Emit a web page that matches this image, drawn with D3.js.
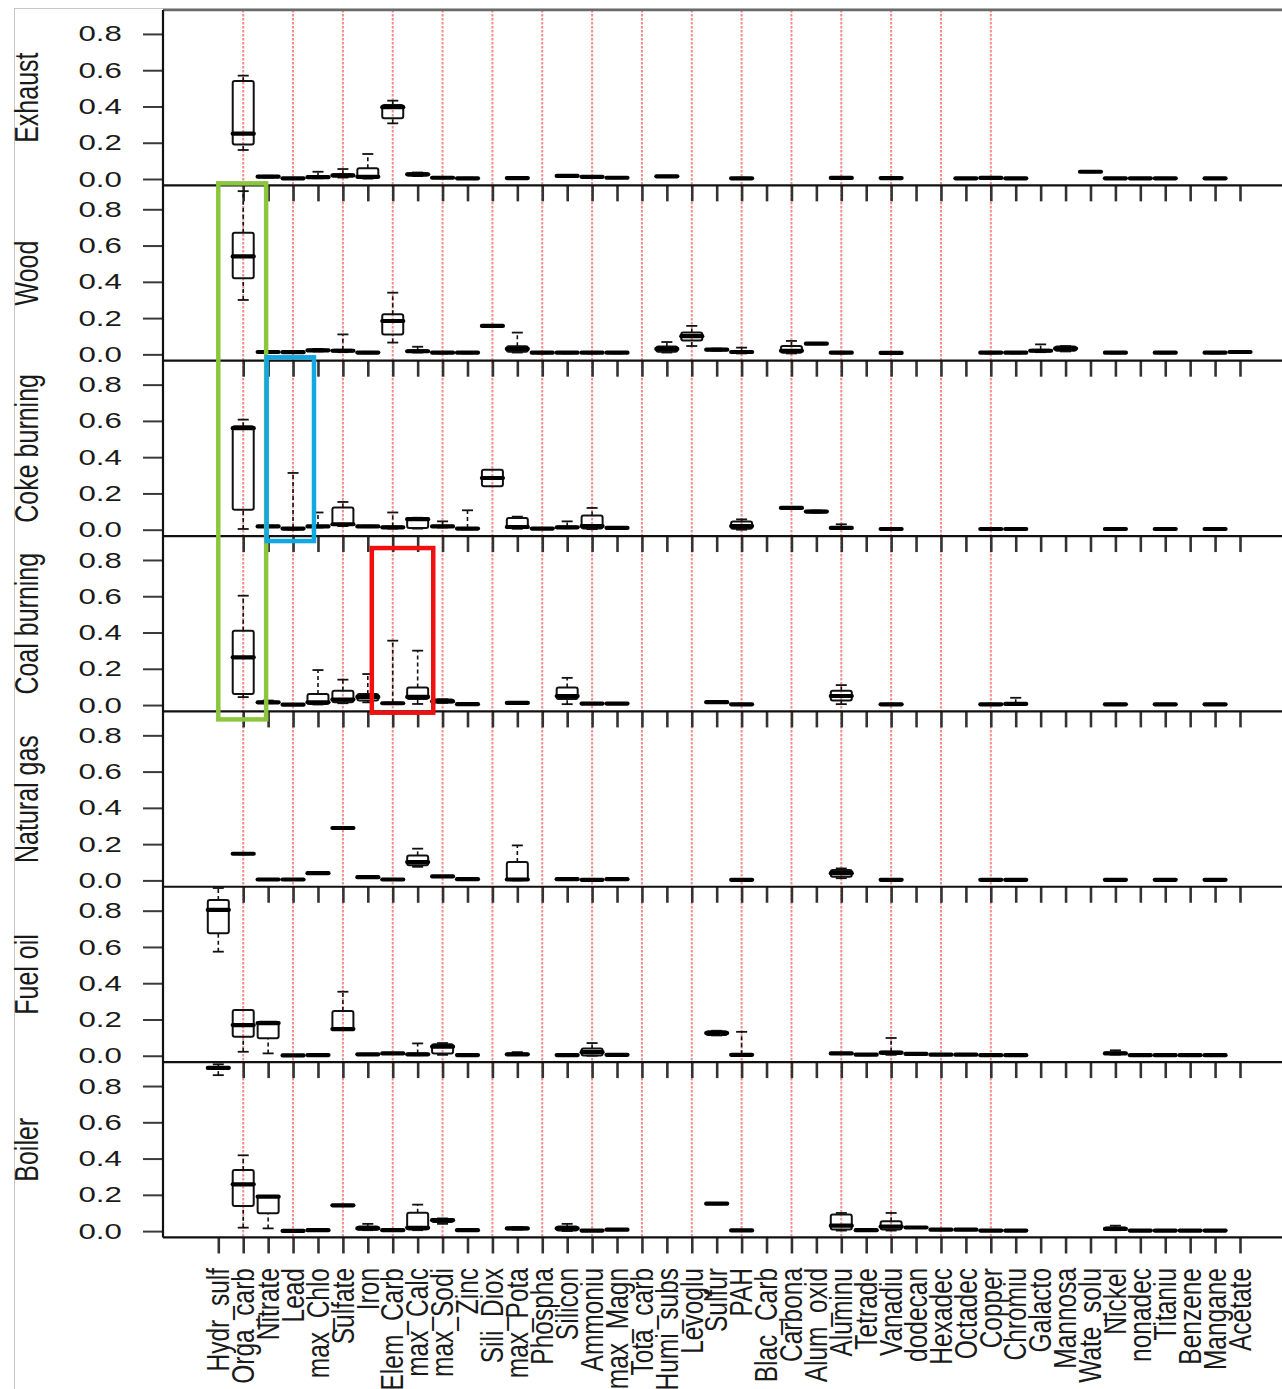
<!DOCTYPE html>
<html>
<head>
<meta charset="utf-8">
<script src="https://cdn.jsdelivr.net/npm/d3@7"></script>
<style>
  body { margin: 0; background: #fff; }
  svg { display: block; }
  text { font-family: "Liberation Sans", Arial, sans-serif; fill: #1a1a1a; }
</style>
</head>
<body>
<svg id="chart" width="1282" height="1389"></svg>
<script>

var categories = ["Hydr_sulf", "Orga_carb", "Nitrate", "Lead", "max_Chlo", "Sulfate", "Iron", "Elem_Carb",
  "max_Calc", "max_Sodi", "Zinc", "Sili_Diox", "max_Pota", "Phospha", "Silicon", "Ammoniu", "max_Magn",
  "Tota_carb", "Humi_subs", "Levoglu", "Sulfur", "PAH", "Blac_Carb", "Carbona", "Alum_oxid", "Aluminu",
  "Tetrade", "Vanadiu", "dodecan", "Hexadec", "Octadec", "Copper", "Chromiu", "Galacto", "Mannosa",
  "Wate_solu", "Nickel", "nonadec", "Titaniu", "Benzene", "Mangane", "Acetate"];

var panels = ["Exhaust", "Wood", "Coke burning", "Coal burning", "Natural gas", "Fuel oil", "Boiler"];

var yTicks = [0, 0.2, 0.4, 0.6, 0.8];

// categories that carry a red dotted guide line
var redLineCats = ["Orga_carb", "Lead", "Sulfate", "Elem_Carb", "max_Sodi", "Sili_Diox", "Phospha", "Ammoniu",
  "Tota_carb", "Levoglu", "PAH", "Carbona", "Aluminu", "Vanadiu", "Hexadec", "Copper"];

// rows: [category, lower whisker, Q1, median, Q3, upper whisker]
var exhaust = [
  ["Orga_carb", 0.16, 0.19, 0.25, 0.54, 0.57],
  ["Nitrate", 0.008, 0.01, 0.013, 0.016, 0.018],
  ["Lead", 0.001, 0.002, 0.004, 0.005, 0.006],
  ["max_Chlo", 0.004, 0.007, 0.01, 0.014, 0.04],
  ["Sulfate", 0.008, 0.014, 0.02, 0.026, 0.055],
  ["Iron", 0.002, 0.005, 0.012, 0.059, 0.138],
  ["Elem_Carb", 0.307, 0.335, 0.396, 0.408, 0.432],
  ["max_Calc", 0.016, 0.02, 0.026, 0.032, 0.036],
  ["max_Sodi", 0.004, 0.005, 0.007, 0.009, 0.01],
  ["Zinc", 0.002, 0.003, 0.004, 0.006, 0.007],
  ["max_Pota", 0.002, 0.004, 0.005, 0.007, 0.008],
  ["Silicon", 0.013, 0.015, 0.017, 0.019, 0.02],
  ["Ammoniu", 0.008, 0.01, 0.012, 0.014, 0.015],
  ["max_Magn", 0.004, 0.005, 0.007, 0.009, 0.01],
  ["Humi_subs", 0.012, 0.013, 0.015, 0.017, 0.018],
  ["PAH", 0.001, 0.002, 0.004, 0.006, 0.007],
  ["Aluminu", 0.003, 0.004, 0.006, 0.008, 0.009],
  ["Vanadiu", 0.002, 0.003, 0.005, 0.006, 0.007],
  ["Octadec", 0.001, 0.002, 0.004, 0.005, 0.006],
  ["Copper", 0.003, 0.004, 0.006, 0.008, 0.009],
  ["Chromiu", 0.001, 0.002, 0.004, 0.005, 0.006],
  ["Wate_solu", 0.037, 0.038, 0.04, 0.042, 0.043],
  ["Nickel", 0.001, 0.002, 0.004, 0.005, 0.006],
  ["nonadec", 0.001, 0.002, 0.004, 0.005, 0.006],
  ["Titaniu", 0.001, 0.002, 0.004, 0.005, 0.006],
  ["Mangane", 0.001, 0.002, 0.004, 0.005, 0.006]
];

var wood = [
  ["Orga_carb", 0.30, 0.42, 0.54, 0.67, 0.90],
  ["Nitrate", 0.009, 0.011, 0.013, 0.015, 0.017],
  ["Lead", 0.008, 0.01, 0.012, 0.014, 0.016],
  ["max_Chlo", 0.016, 0.019, 0.022, 0.026, 0.03],
  ["Sulfate", 0.012, 0.016, 0.02, 0.025, 0.11],
  ["Iron", 0.006, 0.008, 0.01, 0.012, 0.014],
  ["Elem_Carb", 0.065, 0.11, 0.184, 0.221, 0.34],
  ["max_Calc", 0.01, 0.013, 0.017, 0.022, 0.042],
  ["max_Sodi", 0.005, 0.007, 0.009, 0.011, 0.013],
  ["Zinc", 0.005, 0.007, 0.009, 0.011, 0.013],
  ["Sili_Diox", 0.154, 0.155, 0.157, 0.159, 0.16],
  ["max_Pota", 0.01, 0.014, 0.03, 0.045, 0.12],
  ["Phospha", 0.005, 0.007, 0.009, 0.011, 0.013],
  ["Silicon", 0.005, 0.007, 0.009, 0.011, 0.013],
  ["Ammoniu", 0.005, 0.007, 0.009, 0.011, 0.013],
  ["max_Magn", 0.005, 0.007, 0.009, 0.011, 0.013],
  ["Humi_subs", 0.01, 0.015, 0.03, 0.043, 0.068],
  ["Levoglu", 0.046, 0.077, 0.1, 0.12, 0.157],
  ["Sulfur", 0.02, 0.022, 0.026, 0.03, 0.032],
  ["PAH", 0.005, 0.009, 0.013, 0.018, 0.037],
  ["Carbona", 0.005, 0.009, 0.02, 0.046, 0.074],
  ["Alum_oxid", 0.056, 0.057, 0.059, 0.061, 0.062],
  ["Aluminu", 0.005, 0.007, 0.009, 0.011, 0.013],
  ["Vanadiu", 0.004, 0.006, 0.008, 0.01, 0.012],
  ["Copper", 0.005, 0.007, 0.009, 0.011, 0.013],
  ["Chromiu", 0.005, 0.007, 0.009, 0.011, 0.013],
  ["Galacto", 0.012, 0.016, 0.02, 0.026, 0.055],
  ["Mannosa", 0.016, 0.02, 0.032, 0.043, 0.046],
  ["Nickel", 0.005, 0.007, 0.009, 0.011, 0.013],
  ["Titaniu", 0.005, 0.007, 0.009, 0.011, 0.013],
  ["Mangane", 0.005, 0.007, 0.009, 0.011, 0.013],
  ["Acetate", 0.009, 0.011, 0.013, 0.015, 0.017]
];

var coke = [
  ["Orga_carb", 0.004, 0.11, 0.56, 0.57, 0.607],
  ["Nitrate", 0.014, 0.016, 0.018, 0.02, 0.022],
  ["Lead", 0.001, 0.003, 0.006, 0.009, 0.313],
  ["max_Chlo", 0.012, 0.015, 0.018, 0.021, 0.095],
  ["Sulfate", 0.02, 0.028, 0.03, 0.123, 0.153],
  ["Iron", 0.014, 0.016, 0.018, 0.02, 0.022],
  ["Elem_Carb", 0.006, 0.01, 0.013, 0.017, 0.095],
  ["max_Calc", 0.006, 0.009, 0.058, 0.064, 0.066],
  ["max_Sodi", 0.012, 0.015, 0.018, 0.022, 0.046],
  ["Zinc", 0.002, 0.004, 0.006, 0.009, 0.107],
  ["Sili_Diox", 0.239, 0.239, 0.285, 0.331, 0.331],
  ["max_Pota", 0.005, 0.01, 0.015, 0.065, 0.072],
  ["Phospha", 0.003, 0.005, 0.006, 0.008, 0.01],
  ["Silicon", 0.008, 0.01, 0.013, 0.017, 0.046],
  ["Ammoniu", 0.003, 0.006, 0.02, 0.079, 0.12],
  ["max_Magn", 0.006, 0.008, 0.01, 0.012, 0.014],
  ["PAH", 0.0, 0.005, 0.02, 0.045, 0.057],
  ["Carbona", 0.117, 0.118, 0.12, 0.122, 0.123],
  ["Alum_oxid", 0.094, 0.096, 0.1, 0.104, 0.106],
  ["Aluminu", 0.005, 0.007, 0.01, 0.015, 0.03],
  ["Vanadiu", 0.002, 0.003, 0.004, 0.006, 0.007],
  ["Copper", 0.002, 0.003, 0.004, 0.006, 0.007],
  ["Chromiu", 0.002, 0.003, 0.004, 0.006, 0.007],
  ["Nickel", 0.002, 0.003, 0.004, 0.006, 0.007],
  ["Titaniu", 0.002, 0.003, 0.004, 0.006, 0.007],
  ["Mangane", 0.002, 0.003, 0.004, 0.006, 0.007]
];

var coal = [
  ["Orga_carb", 0.044, 0.061, 0.263, 0.41, 0.603],
  ["Nitrate", 0.01, 0.012, 0.015, 0.018, 0.025],
  ["Lead", 0.0, 0.001, 0.002, 0.003, 0.004],
  ["max_Chlo", 0.003, 0.006, 0.015, 0.061, 0.193],
  ["Sulfate", 0.01, 0.015, 0.03, 0.079, 0.14],
  ["Iron", 0.015, 0.025, 0.045, 0.061, 0.171],
  ["Elem_Carb", 0.005, 0.007, 0.01, 0.013, 0.355],
  ["max_Calc", 0.006, 0.033, 0.045, 0.097, 0.3],
  ["max_Sodi", 0.012, 0.015, 0.02, 0.03, 0.032],
  ["Zinc", 0.002, 0.003, 0.005, 0.007, 0.008],
  ["max_Pota", 0.009, 0.01, 0.012, 0.014, 0.016],
  ["Silicon", 0.005, 0.033, 0.05, 0.097, 0.15],
  ["Ammoniu", 0.005, 0.006, 0.008, 0.01, 0.012],
  ["max_Magn", 0.005, 0.006, 0.008, 0.01, 0.012],
  ["Sulfur", 0.013, 0.014, 0.016, 0.018, 0.019],
  ["PAH", 0.001, 0.002, 0.004, 0.006, 0.007],
  ["Aluminu", 0.005, 0.025, 0.05, 0.079, 0.11],
  ["Vanadiu", 0.001, 0.002, 0.004, 0.006, 0.007],
  ["Copper", 0.001, 0.002, 0.004, 0.006, 0.007],
  ["Chromiu", 0.002, 0.004, 0.006, 0.01, 0.04],
  ["Nickel", 0.001, 0.002, 0.004, 0.006, 0.007],
  ["Titaniu", 0.001, 0.002, 0.004, 0.006, 0.007],
  ["Mangane", 0.001, 0.002, 0.004, 0.006, 0.007]
];

var naturalGas = [
  ["Orga_carb", 0.144, 0.145, 0.147, 0.149, 0.15],
  ["Nitrate", 0.002, 0.003, 0.005, 0.007, 0.008],
  ["Lead", 0.002, 0.003, 0.005, 0.007, 0.008],
  ["max_Chlo", 0.037, 0.038, 0.04, 0.042, 0.043],
  ["Sulfate", 0.286, 0.287, 0.289, 0.291, 0.292],
  ["Iron", 0.014, 0.016, 0.018, 0.02, 0.022],
  ["Elem_Carb", 0.002, 0.003, 0.005, 0.007, 0.008],
  ["max_Calc", 0.075, 0.083, 0.101, 0.138, 0.175],
  ["max_Sodi", 0.019, 0.02, 0.022, 0.024, 0.025],
  ["Zinc", 0.004, 0.005, 0.007, 0.009, 0.01],
  ["max_Pota", 0.0, 0.002, 0.005, 0.101, 0.193],
  ["Silicon", 0.004, 0.005, 0.007, 0.009, 0.01],
  ["Ammoniu", 0.0, 0.001, 0.003, 0.005, 0.006],
  ["max_Magn", 0.004, 0.005, 0.007, 0.009, 0.01],
  ["PAH", 0.0, 0.001, 0.003, 0.005, 0.006],
  ["Aluminu", 0.012, 0.02, 0.04, 0.058, 0.066],
  ["Vanadiu", 0.0, 0.001, 0.003, 0.005, 0.006],
  ["Copper", 0.0, 0.001, 0.003, 0.005, 0.006],
  ["Chromiu", 0.0, 0.001, 0.003, 0.005, 0.006],
  ["Nickel", 0.0, 0.001, 0.003, 0.005, 0.006],
  ["Titaniu", 0.0, 0.001, 0.003, 0.005, 0.006],
  ["Mangane", 0.0, 0.001, 0.003, 0.005, 0.006]
];

var fuelOil = [
  ["Hydr_sulf", 0.574, 0.675, 0.804, 0.859, 0.925],
  ["Orga_carb", 0.022, 0.105, 0.169, 0.252, 0.252],
  ["Nitrate", 0.013, 0.096, 0.18, 0.188, 0.188],
  ["Lead", 0.0, 0.001, 0.002, 0.003, 0.004],
  ["max_Chlo", 0.002, 0.003, 0.004, 0.006, 0.007],
  ["Sulfate", 0.142, 0.142, 0.147, 0.247, 0.353],
  ["Iron", 0.005, 0.006, 0.008, 0.01, 0.011],
  ["Elem_Carb", 0.01, 0.011, 0.013, 0.015, 0.016],
  ["max_Calc", 0.003, 0.005, 0.008, 0.012, 0.068],
  ["max_Sodi", 0.005, 0.013, 0.05, 0.063, 0.07],
  ["Zinc", 0.001, 0.002, 0.004, 0.006, 0.007],
  ["max_Pota", 0.004, 0.006, 0.008, 0.012, 0.02],
  ["Silicon", 0.001, 0.002, 0.004, 0.006, 0.007],
  ["Ammoniu", 0.0, 0.002, 0.02, 0.04, 0.07],
  ["max_Magn", 0.002, 0.003, 0.005, 0.007, 0.008],
  ["Sulfur", 0.112, 0.115, 0.125, 0.135, 0.138],
  ["PAH", 0.002, 0.003, 0.005, 0.008, 0.132],
  ["Aluminu", 0.01, 0.011, 0.013, 0.015, 0.016],
  ["Tetrade", 0.003, 0.004, 0.006, 0.008, 0.009],
  ["Vanadiu", 0.005, 0.01, 0.017, 0.022, 0.098],
  ["dodecan", 0.007, 0.008, 0.01, 0.012, 0.013],
  ["Hexadec", 0.003, 0.004, 0.006, 0.008, 0.009],
  ["Octadec", 0.003, 0.004, 0.006, 0.008, 0.009],
  ["Copper", 0.0, 0.001, 0.003, 0.005, 0.006],
  ["Chromiu", 0.0, 0.001, 0.003, 0.005, 0.006],
  ["Nickel", 0.006, 0.01, 0.013, 0.018, 0.03],
  ["nonadec", 0.0, 0.001, 0.003, 0.005, 0.006],
  ["Titaniu", 0.0, 0.001, 0.003, 0.005, 0.006],
  ["Benzene", 0.0, 0.001, 0.003, 0.005, 0.006],
  ["Mangane", 0.0, 0.001, 0.003, 0.005, 0.006]
];

var boiler = [
  ["Hydr_sulf", 0.86, 0.895, 0.9, 0.905, 0.92],
  ["Orga_carb", 0.019, 0.138, 0.258, 0.337, 0.418],
  ["Nitrate", 0.015, 0.098, 0.19, 0.193, 0.193],
  ["Lead", 0.0, 0.0, 0.001, 0.002, 0.003],
  ["max_Chlo", 0.002, 0.003, 0.005, 0.007, 0.008],
  ["Sulfate", 0.139, 0.14, 0.142, 0.144, 0.145],
  ["Iron", 0.005, 0.008, 0.015, 0.025, 0.04],
  ["Elem_Carb", 0.002, 0.003, 0.005, 0.007, 0.008],
  ["max_Calc", 0.005, 0.009, 0.018, 0.101, 0.146],
  ["max_Sodi", 0.04, 0.05, 0.06, 0.066, 0.07],
  ["Zinc", 0.002, 0.003, 0.005, 0.007, 0.008],
  ["max_Pota", 0.008, 0.01, 0.015, 0.02, 0.022],
  ["Silicon", 0.0, 0.003, 0.015, 0.025, 0.04],
  ["Ammoniu", 0.0, 0.001, 0.003, 0.005, 0.006],
  ["max_Magn", 0.005, 0.006, 0.008, 0.01, 0.011],
  ["Sulfur", 0.148, 0.149, 0.151, 0.153, 0.154],
  ["PAH", 0.001, 0.002, 0.004, 0.006, 0.007],
  ["Aluminu", 0.003, 0.009, 0.03, 0.092, 0.1],
  ["Tetrade", 0.002, 0.003, 0.005, 0.007, 0.008],
  ["Vanadiu", 0.003, 0.009, 0.025, 0.055, 0.1],
  ["dodecan", 0.017, 0.018, 0.02, 0.022, 0.023],
  ["Hexadec", 0.005, 0.006, 0.008, 0.01, 0.011],
  ["Octadec", 0.005, 0.006, 0.008, 0.01, 0.011],
  ["Copper", 0.0, 0.001, 0.003, 0.005, 0.006],
  ["Chromiu", 0.0, 0.001, 0.003, 0.005, 0.006],
  ["Nickel", 0.005, 0.008, 0.012, 0.02, 0.03],
  ["nonadec", 0.0, 0.001, 0.003, 0.005, 0.006],
  ["Titaniu", 0.0, 0.001, 0.003, 0.005, 0.006],
  ["Benzene", 0.0, 0.001, 0.003, 0.005, 0.006],
  ["Mangane", 0.0, 0.001, 0.003, 0.005, 0.006]
];

var boxesByPanel = {
  "Exhaust": exhaust, "Wood": wood, "Coke burning": coke, "Coal burning": coal,
  "Natural gas": naturalGas, "Fuel oil": fuelOil, "Boiler": boiler
};

var svg = d3.select("#chart");

var plotLeft = 163, plotRight = 1292, plotTop = 10, panelH = 175.35;
var boxHalf = 10.5, capHalf = 5.5;

var x = d3.scalePoint().domain(categories).range([218.3, 1240]);

function panelTop(i) { return plotTop + i * panelH; }
function panelBottom(i) { return plotTop + (i + 1) * panelH; }

// outer frame of the pasted figure
svg.append("rect")
  .attr("x", 14.5).attr("y", 8.5).attr("width", 1300).attr("height", 1400)
  .attr("fill", "none").attr("stroke", "#c8c8c8").attr("stroke-width", 1);

// red dotted guide lines, behind everything else
svg.append("g").selectAll("line")
  .data(redLineCats)
  .enter()
  .append("line")
  .attr("x1", d => x(d)).attr("x2", d => x(d))
  .attr("y1", plotTop).attr("y2", panelBottom(panels.length - 1))
  .attr("stroke", "#f78a8a")
  .attr("stroke-width", 2)
  .attr("stroke-dasharray", "2.5,1.5");

panels.forEach(function(name, i) {
  var y = d3.scaleLinear().domain([-0.035, 0.932]).range([panelBottom(i), panelTop(i)]);
  var g = svg.append("g").attr("class", "panel");
  var isLast = i === panels.length - 1;

  // y axis
  var yAxis = g.append("g")
    .attr("transform", `translate(${plotLeft},0)`)
    .call(d3.axisLeft(y).tickValues(yTicks).tickSize(20).tickPadding(9).tickFormat(d3.format(".1f")));
  yAxis.select(".domain").remove();
  yAxis.selectAll(".tick line").attr("stroke", "#3a3a3a").attr("stroke-width", 2);
  yAxis.selectAll(".tick text")
    .attr("font-size", 22)
    .attr("font-family", "'Liberation Sans', Arial, sans-serif")
    .attr("fill", "#1a1a1a")
    .attr("transform", "scale(1.42,1)");

  // x ticks below each panel
  var xAxis = g.append("g")
    .attr("transform", `translate(0,${panelBottom(i)})`)
    .call(d3.axisBottom(x).tickValues(isLast ? categories : categories.slice(1)).tickSize(16).tickFormat(""));
  xAxis.select(".domain").remove();
  xAxis.selectAll(".tick line").attr("stroke", "#333").attr("stroke-width", 2.6);

  // panel bottom rule
  g.append("line")
    .attr("x1", plotLeft).attr("x2", plotRight)
    .attr("y1", panelBottom(i)).attr("y2", panelBottom(i))
    .attr("stroke", "#111").attr("stroke-width", 2.2);

  // panel title
  g.append("text")
    .attr("transform", `translate(38,${(panelTop(i) + panelBottom(i)) / 2}) scale(1.3,1) rotate(-90)`)
    .attr("text-anchor", "middle")
    .attr("font-size", 25)
    .text(name);

  // boxplots
  var box = g.selectAll("g.box")
    .data(boxesByPanel[name])
    .enter()
    .append("g")
    .attr("class", "box")
    .attr("transform", d => `translate(${x(d[0])},0)`);

  // whiskers
  box.filter(d => d[5] > d[4]).append("line")
    .attr("y1", d => y(d[4])).attr("y2", d => y(d[5]))
    .attr("stroke", "#111").attr("stroke-width", 1.6).attr("stroke-dasharray", "4,3");
  box.filter(d => d[1] < d[2]).append("line")
    .attr("y1", d => y(d[1])).attr("y2", d => y(d[2]))
    .attr("stroke", "#111").attr("stroke-width", 1.6).attr("stroke-dasharray", "4,3");

  // caps
  box.filter(d => d[5] > d[4]).append("line")
    .attr("x1", -capHalf).attr("x2", capHalf)
    .attr("y1", d => y(d[5])).attr("y2", d => y(d[5]))
    .attr("stroke", "#111").attr("stroke-width", 1.8);
  box.filter(d => d[1] < d[2]).append("line")
    .attr("x1", -capHalf).attr("x2", capHalf)
    .attr("y1", d => y(d[1])).attr("y2", d => y(d[1]))
    .attr("stroke", "#111").attr("stroke-width", 1.8);

  // box
  box.append("rect")
    .attr("x", -boxHalf)
    .attr("width", boxHalf * 2)
    .attr("y", d => y(d[4]))
    .attr("height", d => Math.max(0.5, y(d[2]) - y(d[4])))
    .attr("rx", 2)
    .attr("fill", "none")
    .attr("stroke", "#111")
    .attr("stroke-width", 2);

  // median
  box.append("line")
    .attr("x1", -boxHalf).attr("x2", boxHalf)
    .attr("y1", d => y(d[3])).attr("y2", d => y(d[3]))
    .attr("stroke", "#000").attr("stroke-width", 4.2)
    .attr("stroke-linecap", "round");
});

// frame lines of the plot area
svg.append("line")
  .attr("x1", plotLeft).attr("x2", plotRight)
  .attr("y1", plotTop).attr("y2", plotTop)
  .attr("stroke", "#6a6a6a").attr("stroke-width", 2.4);
svg.append("line")
  .attr("x1", plotLeft).attr("x2", plotLeft)
  .attr("y1", plotTop).attr("y2", panelBottom(panels.length - 1))
  .attr("stroke", "#111").attr("stroke-width", 2.2);

// category labels under the last panel
svg.append("g").selectAll("text")
  .data(categories)
  .enter()
  .append("text")
  .attr("transform", d => `translate(${x(d)},1268) scale(1.25,1) rotate(-90)`)
  .attr("text-anchor", "end")
  .attr("dy", "0.35em")
  .attr("font-size", 24.5)
  .text(d => d);

// coloured highlight frames
var hl = svg.append("g").attr("fill", "none").attr("stroke-width", 4.5);
hl.append("rect")
  .attr("x", x("Hydr_sulf"))
  .attr("y", panelTop(1) - 2)
  .attr("width", x("Nitrate") - 2 - x("Hydr_sulf"))
  .attr("height", panelBottom(3) + 8 - (panelTop(1) - 2))
  .attr("stroke", "#8cc63f");
hl.append("rect")
  .attr("x", x("Nitrate") - 1.5)
  .attr("y", panelTop(2) - 3.4)
  .attr("width", (x("max_Chlo") - 4) - (x("Nitrate") - 1.5))
  .attr("height", panelBottom(2) + 5 - (panelTop(2) - 3.4))
  .attr("stroke", "#12a8e2");
hl.append("rect")
  .attr("x", x("Iron") + 4)
  .attr("y", panelTop(3) + 12)
  .attr("width", (x("max_Calc") + 15.6) - (x("Iron") + 4))
  .attr("height", panelBottom(3) + 1.3 - (panelTop(3) + 12))
  .attr("stroke", "#f01010");

</script>
</body>
</html>
